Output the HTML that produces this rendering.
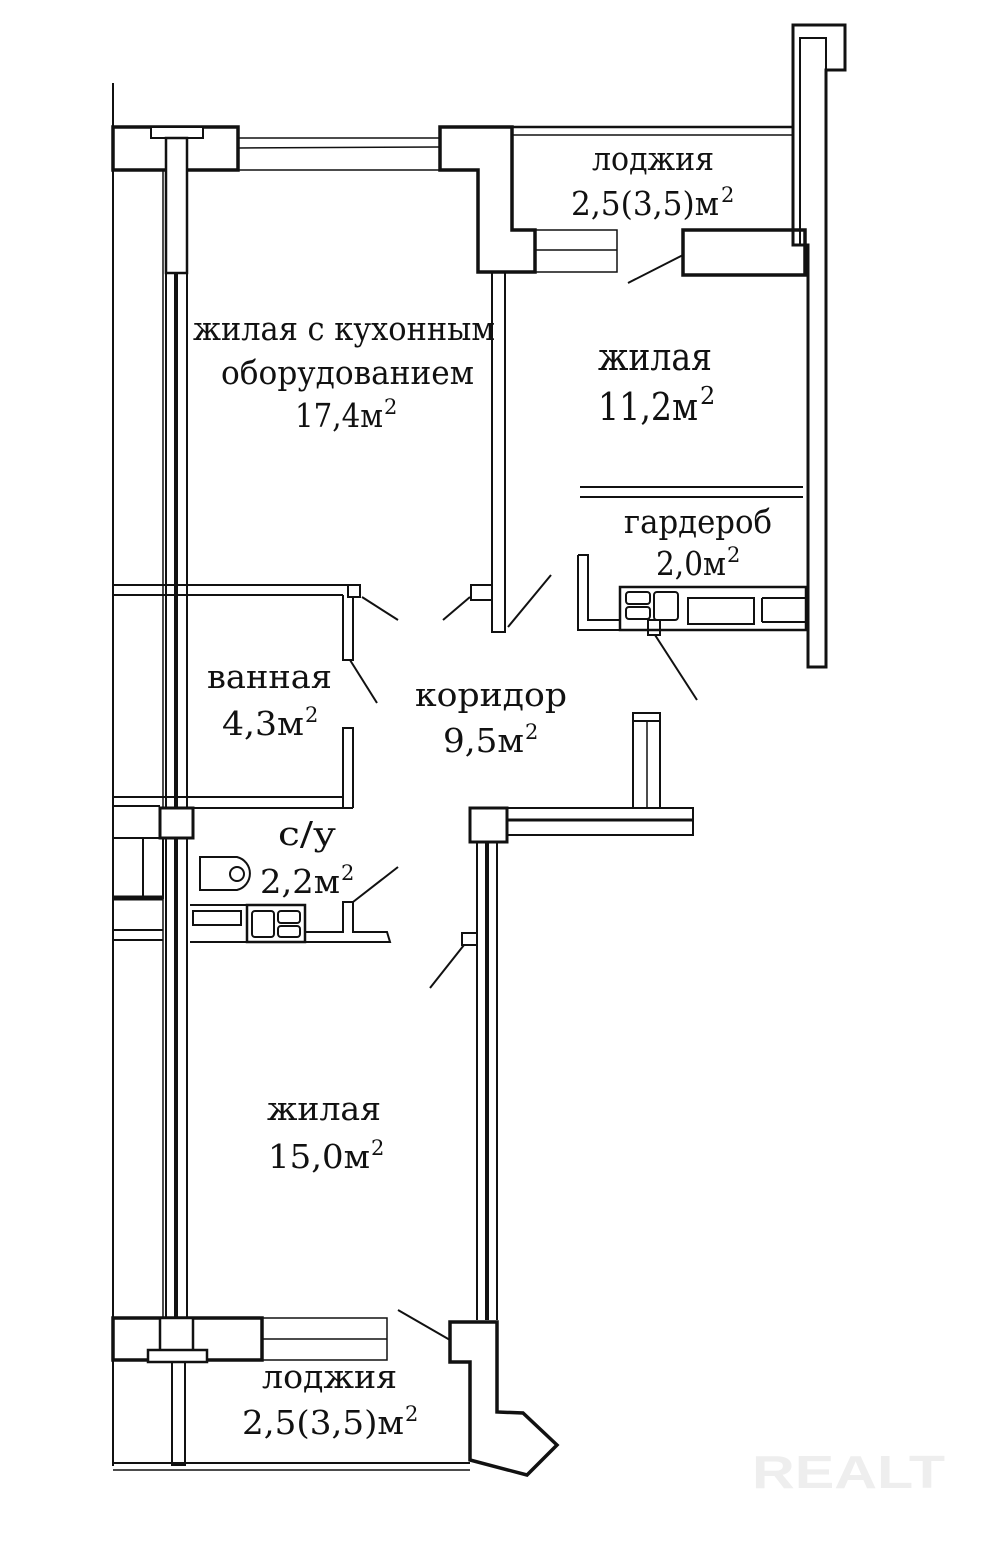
<!DOCTYPE html>
<html><head><meta charset="utf-8"><style>
html,body{margin:0;padding:0;background:#fff}
svg{display:block}
text{font-family:"DejaVu Serif","Liberation Serif",serif;fill:#111;text-anchor:start}
</style></head><body>
<svg width="998" height="1544" viewBox="0 0 998 1544" xmlns="http://www.w3.org/2000/svg">
<g fill="none" stroke="#111" stroke-width="2">
<line x1="113" y1="83" x2="113" y2="1466"/>
<rect x="113" y="127" width="125" height="43" stroke-width="3.5"/>
<rect x="151" y="127" width="52" height="11" fill="#fff"/>
<rect x="166" y="138" width="21" height="135" fill="#fff" stroke-width="2.5"/>
<line x1="166" y1="273" x2="166" y2="1318"/>
<line x1="187" y1="273" x2="187" y2="1318"/>
<line x1="176" y1="273" x2="176" y2="1318" stroke-width="4"/>
<line x1="163" y1="170" x2="163" y2="1318" stroke-width="1.5"/>
<line x1="238" y1="138" x2="440" y2="138" stroke-width="1.5"/>
<line x1="238" y1="148" x2="440" y2="147" stroke-width="1.5"/>
<line x1="238" y1="170" x2="440" y2="170" stroke-width="1.5"/>
<polygon points="440,127 512,127 512,230 535,230 535,272 478,272 478,170 440,170" stroke-width="3.5"/>
<line x1="512" y1="127" x2="793" y2="127" stroke-width="2.5"/>
<line x1="512" y1="135" x2="793" y2="135" stroke-width="1.5"/>
<polygon points="793,25 845,25 845,70 826,70 826,667 808,667 808,245 793,245" stroke-width="3"/>
<polyline points="800,245 800,38 826,38 826,70" stroke-width="2"/>
<polygon points="683,230 805,230 805,275 683,275" stroke-width="3.5"/>
<rect x="535" y="230" width="82" height="42" stroke-width="1.5"/>
<line x1="535" y1="250" x2="617" y2="250" stroke-width="1.5"/>
<line x1="628" y1="283" x2="683" y2="255" stroke-width="2"/>
<rect x="492" y="272" width="13" height="360" stroke-width="2"/>
<polyline points="492,585 471,585 471,600 492,600" stroke-width="2"/>
<line x1="443" y1="620" x2="470" y2="597"/>
<line x1="508" y1="627" x2="551" y2="575"/>
<line x1="580" y1="487" x2="803" y2="487" stroke-width="2"/>
<line x1="580" y1="497" x2="803" y2="497" stroke-width="2"/>
<polyline points="578,555 588,555 588,620 620,620" stroke-width="2"/>
<polyline points="578,555 578,630 808,630" stroke-width="2"/>
<rect x="620" y="587" width="186" height="43" stroke-width="2.5"/>
<rect x="626" y="592" width="24" height="12" rx="3"/>
<rect x="626" y="607" width="24" height="12" rx="3"/>
<rect x="654" y="592" width="24" height="28" rx="3"/>
<rect x="688" y="598" width="66" height="26"/>
<line x1="762" y1="598" x2="806" y2="598"/>
<line x1="762" y1="598" x2="762" y2="622"/>
<line x1="762" y1="622" x2="806" y2="622"/>
<rect x="648" y="620" width="12" height="15"/>
<line x1="655" y1="635" x2="697" y2="700"/>
<line x1="113" y1="585" x2="348" y2="585" stroke-width="2"/>
<line x1="113" y1="595" x2="343" y2="595" stroke-width="2"/>
<rect x="348" y="585" width="12" height="12"/>
<polyline points="343,595 343,660 353,660 353,597"/>
<line x1="362" y1="597" x2="398" y2="620"/>
<line x1="350" y1="660" x2="377" y2="703"/>
<polyline points="343,808 343,728 353,728 353,808"/>
<line x1="113" y1="797" x2="343" y2="797"/>
<line x1="187" y1="808" x2="353" y2="808"/>
<line x1="113" y1="806" x2="160" y2="806"/>
<rect x="160" y="808" width="33" height="30" fill="#fff" stroke-width="3"/>
<rect x="113" y="838" width="30" height="60"/>
<rect x="143" y="838" width="20" height="60"/>
<line x1="113" y1="898" x2="163" y2="898" stroke-width="5"/>
<line x1="113" y1="930" x2="163" y2="930"/>
<line x1="113" y1="940" x2="163" y2="940"/>
<path d="M200,857 L237,857 A17,17 0 0 1 237,890 L200,890 Z"/>
<circle cx="237" cy="874" r="7"/>
<polyline points="190,905 247,905"/>
<rect x="193" y="911" width="48" height="14"/>
<rect x="247" y="905" width="58" height="37" stroke-width="2.5"/>
<rect x="252" y="911" width="22" height="26" rx="3"/>
<rect x="278" y="911" width="22" height="12" rx="3"/>
<rect x="278" y="926" width="22" height="11" rx="3"/>
<polyline points="305,932 343,932 343,902 353,902 353,932 387,932 390,942 190,942"/>
<line x1="353" y1="902" x2="398" y2="867"/>
<rect x="470" y="808" width="37" height="34" fill="#fff" stroke-width="3"/>
<polyline points="507,808 693,808 693,835 507,835"/>
<line x1="507" y1="820" x2="693" y2="820" stroke-width="3"/>
<rect x="633" y="713" width="27" height="8"/>
<polyline points="633,721 633,808"/>
<polyline points="660,721 660,808"/>
<line x1="647" y1="721" x2="647" y2="808" stroke-width="1.5"/>
<line x1="477" y1="842" x2="477" y2="1320"/>
<line x1="497" y1="842" x2="497" y2="1320"/>
<line x1="487" y1="842" x2="487" y2="1320" stroke-width="4"/>
<polyline points="477,933 462,933 462,945 477,945"/>
<line x1="430" y1="988" x2="464" y2="945"/>
<rect x="113" y="1318" width="149" height="42" stroke-width="3.5"/>
<rect x="160" y="1318" width="33" height="34" fill="#fff" stroke-width="2.5"/>
<rect x="148" y="1350" width="59" height="12" fill="#fff" stroke-width="2.5"/>
<rect x="262" y="1318" width="125" height="42" stroke-width="1.5"/>
<line x1="262" y1="1339" x2="387" y2="1339" stroke-width="1.5"/>
<rect x="172" y="1362" width="13" height="103"/>
<line x1="113" y1="1463" x2="470" y2="1463"/>
<line x1="113" y1="1470" x2="470" y2="1470" stroke-width="1.5"/>
<polygon points="450,1322 497,1322 497,1412 523,1413 557,1445 527,1475 470,1460 470,1362 450,1362" stroke-width="3.5"/>
<line x1="398" y1="1310" x2="450" y2="1340"/>
</g>
<g font-size="33">
<text x="592" y="170" textLength="122" lengthAdjust="spacingAndGlyphs">лоджия</text>
<text x="571" y="215" textLength="148" lengthAdjust="spacingAndGlyphs">2,5(3,5)м</text><text x="721" y="202" font-size="21">2</text>
<text x="193" y="340" textLength="302" lengthAdjust="spacingAndGlyphs">жилая с кухонным</text>
<text x="221" y="384" textLength="253" lengthAdjust="spacingAndGlyphs">оборудованием</text>
<text x="295" y="427" textLength="88" lengthAdjust="spacingAndGlyphs">17,4м</text><text x="384" y="414" font-size="21">2</text>
<text x="598" y="370" font-size="38" textLength="114" lengthAdjust="spacingAndGlyphs">жилая</text>
<text x="598" y="420" font-size="38" textLength="100" lengthAdjust="spacingAndGlyphs">11,2м</text><text x="700" y="404" font-size="24">2</text>
<text x="624" y="533" textLength="148" lengthAdjust="spacingAndGlyphs">гардероб</text>
<text x="656" y="575" textLength="70" lengthAdjust="spacingAndGlyphs">2,0м</text><text x="727" y="562" font-size="21">2</text>
<text x="207" y="688" textLength="125" lengthAdjust="spacingAndGlyphs">ванная</text>
<text x="222" y="735" textLength="82" lengthAdjust="spacingAndGlyphs">4,3м</text><text x="305" y="722" font-size="21">2</text>
<text x="415" y="706" textLength="152" lengthAdjust="spacingAndGlyphs">коридор</text>
<text x="443" y="752" textLength="81" lengthAdjust="spacingAndGlyphs">9,5м</text><text x="525" y="739" font-size="21">2</text>
<text x="278" y="845" textLength="58" lengthAdjust="spacingAndGlyphs">с/у</text>
<text x="260" y="893" textLength="80" lengthAdjust="spacingAndGlyphs">2,2м</text><text x="341" y="880" font-size="21">2</text>
<text x="267" y="1120" textLength="114" lengthAdjust="spacingAndGlyphs">жилая</text>
<text x="268" y="1168" textLength="102" lengthAdjust="spacingAndGlyphs">15,0м</text><text x="371" y="1155" font-size="21">2</text>
<text x="262" y="1388" textLength="135" lengthAdjust="spacingAndGlyphs">лоджия</text>
<text x="242" y="1434" textLength="162" lengthAdjust="spacingAndGlyphs">2,5(3,5)м</text><text x="405" y="1421" font-size="21">2</text>
</g>
<text x="752" y="1488" font-size="46" textLength="193" lengthAdjust="spacingAndGlyphs" style="font-family:'Liberation Sans',sans-serif;fill:#eee;font-weight:bold">REALT</text>
</svg>
</body></html>
